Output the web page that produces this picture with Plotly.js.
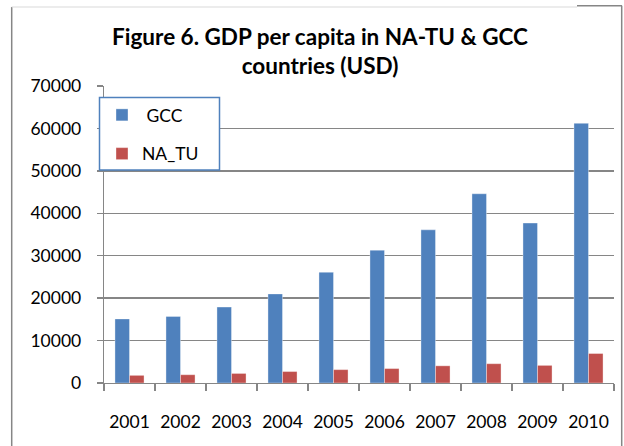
<!DOCTYPE html>
<html>
<head>
<meta charset="utf-8">
<script src="https://cdn.plot.ly/plotly-3.0.1.min.js"></script>
<style>
html,body{margin:0;padding:0;background:#fff;}
#chart{width:624px;height:446px;}
</style>
</head>
<body>
<div id="chart"></div>
<script>
var years = ['2001','2002','2003','2004','2005','2006','2007','2008','2009','2010'];
var gcc = [15100, 15700, 17900, 21000, 26100, 31300, 36100, 44600, 37700, 61200];
var naTu = [1800, 1950, 2250, 2700, 3150, 3400, 4050, 4550, 4150, 6950];
var seriesNames = ['GCC', 'NA_TU'];
var yTicks = [0, 10000, 20000, 30000, 40000, 50000, 60000, 70000];

var W = 624, H = 446;
var mL = 104, mR = 10, mT = 86, mB = 63;
var pw = W - mL - mR, ph = H - mT - mB;
function px(x){ return (x - mL) / pw; }
function py(y){ return (H - mB - y) / ph; }

var grey = '#868686';
var fontFam = 'Lato, "Liberation Sans", sans-serif';

var traces = [
  {type:'bar', name:' ' + seriesNames[0], x: years, y: gcc, legendgroup:'a',
   marker:{color:'#4F81BD', line:{color:'rgba(255,255,255,0.35)', width:1}}},
  {type:'bar', name:seriesNames[1], x: years, y: naTu, legendgroup:'b',
   marker:{color:'#C0504D', line:{color:'rgba(255,255,255,0.35)', width:1}}}
];

var layout = {
  width: W, height: H,
  margin:{l:mL, r:mR, t:mT, b:mB, pad:0},
  paper_bgcolor:'#fff', plot_bgcolor:'#fff',
  font:{family:fontFam, size:17.5, color:'#000'},
  title:{text:'Figure 6. GDP per capita in NA-TU &amp; GCC<br>countries (USD)',
         font:{family:fontFam, size:22.5, weight:'bold', color:'#000'},
         xref:'container', x:320/W, xanchor:'center',
         yref:'container', y:1 - 45/H, yanchor:'top'},
  bargap:0.43, bargroupgap:0, barmode:'group',
  showlegend:true,
  legend:{x:px(102), y:py(97), xanchor:'left', yanchor:'top',
          bgcolor:'rgba(0,0,0,0)', borderwidth:0,
          font:{family:fontFam, size:17.5, color:'#000'},
          tracegroupgap:13, traceorder:'grouped'},
  xaxis:{type:'category', tickson:'boundaries', ticks:'outside', ticklen:7,
         tickcolor:grey, tickwidth:1.3, showline:true, linecolor:grey, linewidth:1.3,
         showgrid:false, ticklabelstandoff:23, tickfont:{family:fontFam, size:17.5, color:'#000'},
         fixedrange:true},
  yaxis:{range:[0,70000], tickvals:yTicks, ticktext:yTicks.map(String), ticks:'outside', ticklen:6,
         tickcolor:grey, tickwidth:1.3, showline:true, linecolor:grey, linewidth:1.3,
         showgrid:true, gridcolor:grey, gridwidth:1.3, zeroline:false,
         ticklabelstandoff:12, tickfont:{family:fontFam, size:17.5, color:'#000'},
         fixedrange:true},
  shapes:[
    // legend box
    {type:'rect', xref:'paper', yref:'paper', x0:px(99.5), x1:px(219.5), y0:py(170), y1:py(97.5),
     line:{color:'#4F81BD', width:1.5}, fillcolor:'#ffffff', layer:'above'},
    // outer chart border
    {type:'line', xref:'paper', yref:'paper', x0:px(11.7), x1:px(11.7), y0:py(7), y1:py(460),
     line:{color:grey, width:1.5}},
    {type:'line', xref:'paper', yref:'paper', x0:px(621.7), x1:px(621.7), y0:py(5.7), y1:py(460),
     line:{color:grey, width:1.5}},
    {type:'line', xref:'paper', yref:'paper', x0:px(11.7), x1:px(577), y0:py(7), y1:py(7),
     line:{color:'#D9D9D9', width:1}},
    {type:'line', xref:'paper', yref:'paper', x0:px(577), x1:px(622), y0:py(5.7), y1:py(5.7),
     line:{color:grey, width:1.5}}
  ]
};

Plotly.newPlot('chart', traces, layout, {displayModeBar:false, staticPlot:true});
</script>
</body>
</html>
